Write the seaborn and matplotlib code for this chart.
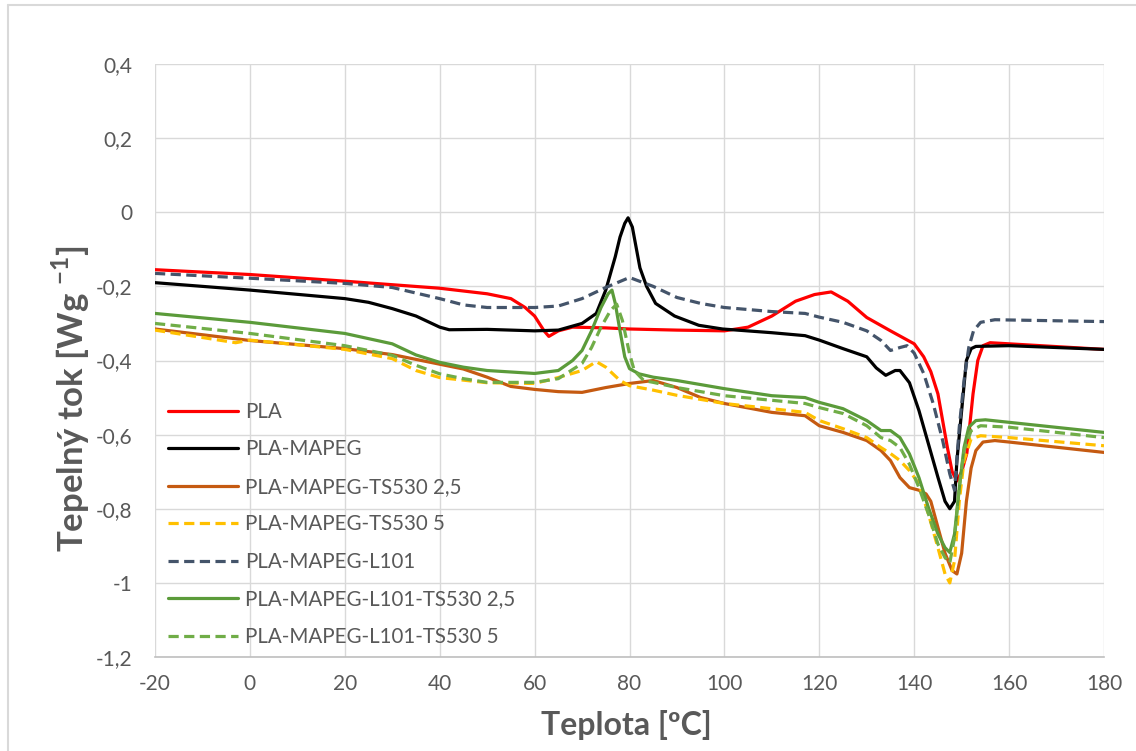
import numpy as np
import pandas as pd
import matplotlib
matplotlib.use("Agg")
import matplotlib.pyplot as plt
import seaborn as sns

# ---------------- data ----------------
pla_x = [-20, 0, 20, 40, 50, 55, 58, 60, 62, 63, 65, 68, 75, 80, 90, 100, 105, 110, 115, 119,
         122.5, 126, 130, 135, 140, 142, 143.5, 145, 147, 148, 149, 150, 151.1, 152.4, 153.4,
         154.5, 156, 160, 180]
pla_y = [-0.155, -0.168, -0.186, -0.205, -0.22, -0.233, -0.257, -0.28, -0.32, -0.335, -0.32,
         -0.31, -0.312, -0.315, -0.318, -0.32, -0.31, -0.28, -0.24, -0.222, -0.215, -0.24,
         -0.284, -0.32, -0.355, -0.39, -0.43, -0.49, -0.635, -0.70, -0.725, -0.70, -0.65,
         -0.49, -0.40, -0.36, -0.352, -0.355, -0.37]

mapeg_x = [-20, 0, 20, 25, 30, 35, 40, 42, 50, 60, 65, 70, 73, 75, 77, 78, 79, 79.7, 80.6,
           81.4, 82.2, 83.6, 85.5, 89.5, 94.6, 99.6, 110, 117, 120, 125, 130, 132, 134, 136,
           137, 139, 141, 143, 145, 146.5, 147.5, 148.5, 149, 150, 151, 152, 153, 160, 180]
mapeg_y = [-0.19, -0.21, -0.233, -0.243, -0.26, -0.28, -0.31, -0.317, -0.316, -0.32, -0.318,
           -0.30, -0.273, -0.21, -0.12, -0.067, -0.03, -0.015, -0.04, -0.095, -0.15, -0.20,
           -0.246, -0.28, -0.305, -0.315, -0.325, -0.333, -0.345, -0.368, -0.39, -0.42, -0.44,
           -0.427, -0.427, -0.46, -0.535, -0.625, -0.715, -0.78, -0.80, -0.78, -0.67, -0.535,
           -0.40, -0.368, -0.362, -0.36, -0.37]

ts25_x = [-20, 0, 20, 30, 40, 45, 50, 55, 60, 65, 70, 75, 80, 85, 90, 95, 100, 110, 117, 120,
          125, 130, 133, 135, 137, 139, 141, 142.5, 143.5, 145, 146.5, 148, 149, 150, 151, 152,
          153, 154.5, 157, 160, 180]
ts25_y = [-0.315, -0.346, -0.368, -0.384, -0.41, -0.423, -0.445, -0.47, -0.478, -0.484, -0.486,
          -0.473, -0.462, -0.454, -0.473, -0.5, -0.516, -0.54, -0.549, -0.576, -0.594, -0.616,
          -0.643, -0.67, -0.716, -0.743, -0.75, -0.76, -0.78, -0.85, -0.92, -0.967, -0.976,
          -0.92, -0.78, -0.69, -0.643, -0.62, -0.616, -0.62, -0.648]

ts5_x = [-20, -3, 0, 20, 30, 35, 40, 50, 60, 65, 70, 73, 75, 78, 80, 85, 90, 100, 117, 120, 125,
         130, 133, 135, 137, 139, 141, 143, 145, 146.5, 147.5, 148.5, 149.5, 150.5, 152, 154,
         160, 180]
ts5_y = [-0.318, -0.352, -0.345, -0.37, -0.395, -0.427, -0.446, -0.46, -0.462, -0.446, -0.427,
         -0.403, -0.418, -0.454, -0.468, -0.48, -0.494, -0.516, -0.54, -0.562, -0.584, -0.608,
         -0.635, -0.651, -0.67, -0.697, -0.733, -0.814, -0.905, -0.976, -1.0, -0.94, -0.78,
         -0.67, -0.611, -0.603, -0.608, -0.63]

l101_x = [-20, 0, 20, 30, 40, 45, 50, 60, 65, 70, 75, 80, 85, 90, 95, 100, 110, 117, 120, 125,
          130, 133, 135, 137, 138.5, 140, 142, 144, 146, 147.5, 148.5, 149.5, 150.5, 151.5,
          152.5, 154, 157, 180]
l101_y = [-0.165, -0.178, -0.192, -0.203, -0.233, -0.25, -0.257, -0.257, -0.253, -0.233, -0.203,
          -0.176, -0.2, -0.23, -0.246, -0.257, -0.268, -0.273, -0.283, -0.297, -0.32, -0.346,
          -0.373, -0.365, -0.36, -0.38, -0.435, -0.516, -0.616, -0.706, -0.75, -0.58, -0.454,
          -0.365, -0.32, -0.297, -0.29, -0.295]

l101ts25_x = [-20, 0, 20, 30, 35, 40, 45, 50, 60, 65, 68, 70, 72, 74, 75.5, 76.3, 77, 78, 79,
              80, 82, 85, 90, 100, 110, 117, 120, 125, 130, 133, 135, 137, 139, 141, 143, 145,
              146.5, 147.5, 148.5, 149.5, 150.5, 151.5, 153, 155, 180]
l101ts25_y = [-0.273, -0.297, -0.327, -0.355, -0.385, -0.405, -0.418, -0.427, -0.435, -0.427,
              -0.40, -0.373, -0.32, -0.257, -0.22, -0.21, -0.246, -0.32, -0.39, -0.422, -0.436,
              -0.445, -0.454, -0.476, -0.495, -0.50, -0.513, -0.53, -0.562, -0.589, -0.589,
              -0.608, -0.652, -0.716, -0.797, -0.868, -0.905, -0.918, -0.868, -0.743, -0.635,
              -0.58, -0.562, -0.56, -0.594]

l101ts5_x = [-20, 0, 20, 30, 35, 40, 45, 50, 60, 65, 70, 72, 74, 76, 77.3, 78.5, 80, 81, 83, 85,
             90, 100, 117, 120, 125, 130, 133, 135, 137, 139, 141, 143, 145, 146.5, 147.5,
             148.5, 149.5, 150.5, 152, 154, 160, 180]
l101ts5_y = [-0.30, -0.327, -0.36, -0.386, -0.413, -0.436, -0.449, -0.459, -0.459, -0.449,
             -0.408, -0.365, -0.31, -0.265, -0.248, -0.292, -0.381, -0.427, -0.454, -0.459,
             -0.473, -0.495, -0.516, -0.527, -0.543, -0.576, -0.608, -0.616, -0.635, -0.68,
             -0.743, -0.814, -0.895, -0.932, -0.946, -0.878, -0.743, -0.643, -0.589, -0.576,
             -0.58, -0.608]

series_names = ["PLA", "PLA-MAPEG", "PLA-MAPEG-TS530 2,5", "PLA-MAPEG-TS530 5",
                "PLA-MAPEG-L101", "PLA-MAPEG-L101-TS530 2,5", "PLA-MAPEG-L101-TS530 5"]
x_ticks = [-20, 0, 20, 40, 60, 80, 100, 120, 140, 160, 180]
y_ticks = [-1.2, -1.0, -0.8, -0.6, -0.4, -0.2, 0.0, 0.2, 0.4]

series_data = [(pla_x, pla_y), (mapeg_x, mapeg_y), (ts25_x, ts25_y), (ts5_x, ts5_y),
               (l101_x, l101_y), (l101ts25_x, l101ts25_y), (l101ts5_x, l101ts5_y)]

# ---------------- styles ----------------
colors = ["#FF0000", "#000000", "#C55A11", "#FFC000", "#44546A", "#5B9B3A", "#70AD47"]
dashed = [False, False, False, True, True, False, True]

sns.set_theme(style="white")
plt.rcParams["font.family"] = ["Lato", "DejaVu Sans"]
plt.rcParams["mathtext.fontset"] = "custom"
plt.rcParams["mathtext.rm"] = "Lato"
plt.rcParams["mathtext.bf"] = "Lato:bold"

W, H = 1136, 751
fig = plt.figure(figsize=(W / 100, H / 100), dpi=100)
fig.patch.set_facecolor("white")
L, R, T, B = 155, 1104, 64, 657
ax = fig.add_axes([L / W, 1 - B / H, (R - L) / W, (B - T) / H])

frames = []
for name, (xs, ys) in zip(series_names, series_data):
    frames.append(pd.DataFrame({"T": xs, "Q": ys, "series": name}))
df = pd.concat(frames, ignore_index=True)

lw = 2.3
for name, col, dsh in zip(series_names, colors, dashed):
    sub = df[df["series"] == name]
    ls = (0, (3.2, 1.7)) if dsh else "-"
    sns.lineplot(data=sub, x="T", y="Q", ax=ax, color=col, linewidth=lw,
                 linestyle=ls, sort=False, estimator=None, label=name,
                 solid_joinstyle="round", dash_joinstyle="round", dash_capstyle="butt")

ax.set_xlim(-20, 180)
ax.set_ylim(-1.2, 0.4)
ax.set_xticks(x_ticks)
ax.set_yticks(y_ticks)
ax.set_xticklabels([str(v) for v in x_ticks])
ax.set_yticklabels([("%g" % v).replace(".", ",") for v in y_ticks])

grid_col = "#D9D9D9"
ax.grid(True, color=grid_col, linewidth=1.0)
ax.set_axisbelow(True)
for s in ["top", "right", "left"]:
    ax.spines[s].set_visible(False)
ax.spines["bottom"].set_color("#BFBFBF")
ax.spines["bottom"].set_linewidth(1.2)

txt_col = "#595959"
ax.tick_params(axis="both", length=0, labelcolor=txt_col, labelsize=15)
ax.tick_params(axis="y", pad=16.5)
ax.tick_params(axis="x", pad=12)

ax.set_xlabel("Teplota [ºC]", fontsize=23, fontweight="bold", color=txt_col)
ax.set_ylabel(r"Tepelný tok [Wg $^{\mathbf{-1}}$]", fontsize=25, fontweight="bold", color=txt_col)
ax.xaxis.set_label_coords(0.497, -0.09)
ax.yaxis.set_label_coords(-0.066, 0.435)

leg = ax.legend(loc="upper left", bbox_to_anchor=(168 / W, 1 - 402 / H),
                bbox_transform=fig.transFigure, frameon=False, fontsize=14.8,
                handlelength=3.4, handletextpad=0.34, labelspacing=0.85,
                borderpad=0.0, borderaxespad=0.0)
for t in leg.get_texts():
    t.set_color(txt_col)

# chart area border (Excel frame)
fig.add_artist(plt.Line2D([8 / W, 8 / W], [0, 1 - 5 / H], transform=fig.transFigure,
                          color="#D9D9D9", linewidth=1.5))
fig.add_artist(plt.Line2D([8 / W, 1], [1 - 5 / H, 1 - 5 / H], transform=fig.transFigure,
                          color="#D9D9D9", linewidth=1.5))

fig.savefig("out.png", dpi=100, facecolor="white")
